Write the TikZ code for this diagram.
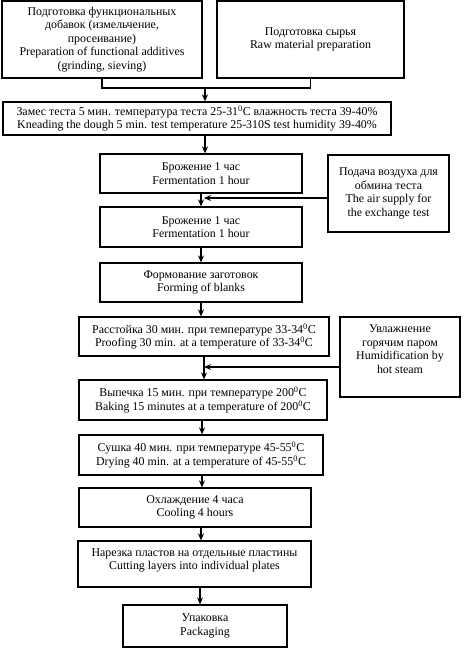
\documentclass[tikz,border=0pt]{standalone}
\usepackage{fontspec}
\setmainfont{Liberation Serif}
\usetikzlibrary{arrows.meta}
\newcommand{\dg}{\textsuperscript{0}}
\begin{document}
\begin{tikzpicture}[x=1pt,y=-1pt,
  box/.style={draw,line width=1.2pt,align=center,inner sep=1pt,
    font=\fontsize{11.9}{13.5}\selectfont},
  arr/.style={line width=1.2pt,-{Stealth[length=7pt,width=6pt]}},
  ln/.style={line width=1.2pt}]
\useasboundingbox (0,0) rectangle (465,650);
\node[box,minimum width=200,minimum height=77] (b1) at (102,39.5)
  {Подготовка функциональных\\добавок (измельчение,\\просеивание)\\Preparation of functional additives\\(grinding, sieving)};
\node[box,minimum width=187,minimum height=77] (b2) at (310.5,39.5)
  {Подготовка сырья\\Raw material preparation};
\node[box,minimum width=388,minimum height=33] (b3) at (197,118.5)
  {Замес теста 5 мин. температура теста 25-31\dg C влажность теста 39-40\%\\Kneading the dough 5 min. test temperature 25-310S test humidity 39-40\%};
\node[box,minimum width=202,minimum height=39] (b4) at (201,173.5)
  {Брожение 1 час\\Fermentation 1 hour};
\node[box,minimum width=202,minimum height=40] (b5) at (201,227)
  {Брожение 1 час\\Fermentation 1 hour};
\node[box,minimum width=121,minimum height=77] (s1) at (388.5,193.5)
  {Подача воздуха для\\обмина теста\\The air supply for\\the exchange test};
\node[box,minimum width=202,minimum height=39] (b6) at (201,282.5)
  {Формование заготовок\\Forming of blanks};
\node[box,minimum width=250,minimum height=39] (b7) at (204,336.5)
  {Расстойка 30 мин. при температуре 33-34\dg C\\Proofing 30 min. at a temperature of 33-34\dg C};
\node[box,minimum width=120,minimum height=80] (s2) at (400,357)
  {Увлажнение\\горячим паром\\Humidification by\\hot steam\rule[-16pt]{0pt}{16pt}};
\node[box,minimum width=248,minimum height=40] (b8) at (203,400)
  {Выпечка 15 мин. при температуре 200\dg C\\Baking 15 minutes at a temperature of 200\dg C};
\node[box,minimum width=244,minimum height=40] (b9) at (201,455)
  {Сушка 40 мин. при температуре 45-55\dg C\\Drying 40 min. at a temperature of 45-55\dg C};
\node[box,minimum width=232,minimum height=39] (b10) at (195,507.5)
  {Охлаждение 4 часа\\Cooling 4 hours};
\node[box,minimum width=233,minimum height=46] (b11) at (194.5,564)
  {Нарезка пластов на отдельные пластины\\Cutting layers into individual plates\rule[-10pt]{0pt}{10pt}};
\node[box,minimum width=164,minimum height=42] (b12) at (205,626)
  {Упаковка\\Packaging};
% merge of the two top boxes
\coordinate (m) at (205,88);
\draw[ln] (b1.south) |- (m);
\draw[ln] (b2.south) |- (m);
\draw[arr] (m) -- (m |- b3.north);
\draw[arr] (m |- b3.south) -- (m |- b4.north);
\draw[arr] (b4.south) -- (b5.north);
\coordinate (j1) at (204,198);
\draw[arr] (s1.west |- j1) -- (j1);
\draw[arr] (b5.south) -- (b6.north);
\draw[arr] (b6.south) -- (b6.south |- b7.north);
\coordinate (j2) at (204,367);
\draw[arr] (b7.south -| j2) -- (b8.north -| j2);
\draw[arr] (s2.west |- j2) -- (j2);
\coordinate (c3) at (202,0);
\draw[arr] (b8.south -| c3) -- (b9.north -| c3);
\draw[arr] (b9.south -| c3) -- (b10.north -| c3);
\coordinate (c4) at (201,0);
\draw[arr] (b10.south -| c4) -- (b11.north -| c4);
\coordinate (c5) at (200,0);
\draw[arr] (b11.south -| c5) -- (b12.north -| c5);
\end{tikzpicture}
\end{document}
